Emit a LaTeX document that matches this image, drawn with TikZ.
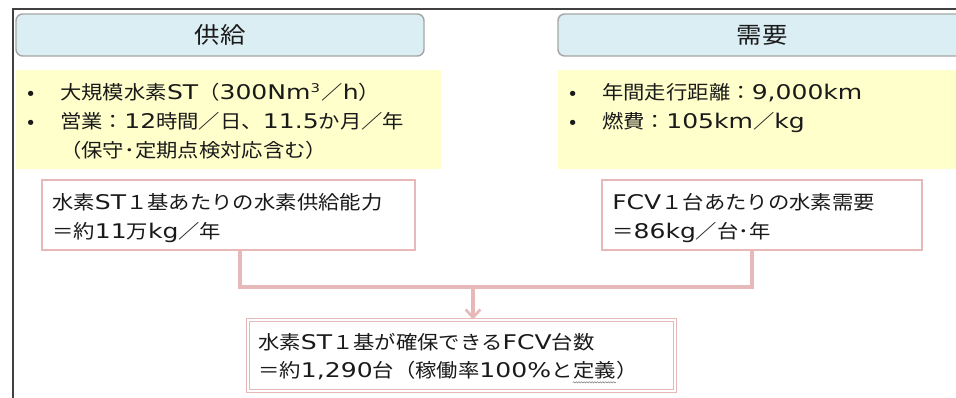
\documentclass[tikz,border=0pt]{standalone}
\usepackage{fontspec}
\setmainfont[FakeStretch=1.12]{Noto Sans CJK JP}
\newfontfamily\latf[Scale=1.06,FakeStretch=1.24]{DejaVu Sans}
\newcommand\lt[1]{{\latf #1}}
\usetikzlibrary{arrows.meta,decorations.pathmorphing}
\definecolor{hdrfill}{HTML}{DAEEF3}
\definecolor{hdrdraw}{HTML}{A6A6A6}
\definecolor{yel}{HTML}{FFFFCC}
\definecolor{pinkc}{HTML}{E6B9B8}
\definecolor{framec}{HTML}{404040}
\definecolor{txtc}{HTML}{1A1A1A}
\newcommand\bodysz{\fontsize{14.3pt}{18pt}\selectfont}
\newcommand\hdrsz{\fontsize{17pt}{22pt}\selectfont}
\begin{document}
\begin{tikzpicture}[x=0.75pt,y=-0.75pt,
  hdrbox/.style={draw=hdrdraw,fill=hdrfill,line width=1.1pt,rounded corners=5pt,inner sep=0pt,font=\hdrsz,text=txtc},
  yelbox/.style={fill=yel,inner sep=0pt},
  pinkbox/.style={draw=pinkc,fill=white,line width=1.2pt,inner sep=0pt},
  dblbox/.style={draw=pinkc,line width=0.8pt,double=white,double distance=1.6pt,inner sep=0pt},
  txt/.style={anchor=base west,inner sep=0pt,font=\bodysz,text=txtc},
  conn/.style={draw=pinkc,line width=2.4pt},
  frameline/.style={draw=framec,line width=2pt}]
\useasboundingbox (0,0) rectangle (956,397);

% frame
\coordinate (ftl) at (13,9);
\coordinate (ftr) at (960,9);
\coordinate (fbl) at (13,400);
\draw[frameline] (ftr) -- (ftl) -- (fbl);

% headers
\node[hdrbox,minimum width=306pt,minimum height=31.5pt] (h1) at (220,35) {供給};
\node[hdrbox,minimum width=309pt,minimum height=31.5pt] (h2) at (764,35) {\hspace*{-3pt}需要};

% yellow boxes
\node[yelbox,minimum width=318.75pt,minimum height=74.25pt] (y1) at (228.5,119.5) {};
\node[yelbox,minimum width=309pt,minimum height=74.25pt] (y2) at (764,119.5) {};

\node[txt] (bl1) at (27,99) {•};
\node[txt] (bl2) at (27,128) {•};
\node[txt] (l1) at (60,99) {大規模水素\lt{ST}（\lt{300Nm}\raisebox{0.62ex}{\fontsize{8.5pt}{10pt}\selectfont\latf 3}\hspace{1pt}／\lt{h}）};
\node[txt] (l2) at (60,128) {営業：\lt{12}時間／日、\lt{11.5}か月／年};
\node[txt] (l3) at (60,157) {（保守･定期点検対応含む）};

\node[txt] (br1) at (569,99) {•};
\node[txt] (br2) at (569,128) {•};
\node[txt] (r1) at (602,99) {年間走行距離：\lt{9,000km}};
\node[txt] (r2) at (602,128) {燃費：\lt{105km}／\lt{kg}};

% pink boxes
\node[pinkbox,minimum width=279.75pt,minimum height=52.5pt] (p1) at (228.5,215) {};
\node[txt] (p1a) at (52,209) {水素\lt{ST}１基あたりの水素供給能力};
\node[txt] (p1b) at (52,238) {＝約\lt{11}万\lt{kg}／年};

\node[pinkbox,minimum width=240pt,minimum height=52.5pt] (p2) at (762,215) {};
\node[txt] (p2a) at (612,209) {\lt{FCV}１台あたりの水素需要};
\node[txt] (p2b) at (612,238) {＝\lt{86kg}／台･年};

% result box
\node[dblbox,minimum width=320.25pt,minimum height=53.25pt] (p3) at (461.5,355.5) {};
\node[txt] (p3a) at (258,349) {水素\lt{ST}１基が確保できる\lt{FCV}台数};
\node[txt] (p3b) at (258,377) {＝約\lt{1,290}台（稼働率\lt{100\%}と};
\node[txt,anchor=base west] (p3c) at (p3b.base east) {定義};
\node[txt,anchor=base west] (p3d) at (p3c.base east) {）};
\draw[gray,line width=0.4pt,decorate,decoration={snake,amplitude=0.5pt,segment length=2pt}]
  ([yshift=-4pt]p3c.base west) -- ([yshift=-4pt]p3c.base east);

% connectors
\coordinate (cl) at (240,287);
\coordinate (cr) at (752,287);
\coordinate (cj) at (473,287);
\draw[conn] (p1.south -| cl) |- (cr) -- (p2.south -| cr);
\draw[conn,-{Straight Barb[length=6pt,width=11pt,line width=2pt]}] (cj) -- (p3.north -| cj);
\end{tikzpicture}
\end{document}
